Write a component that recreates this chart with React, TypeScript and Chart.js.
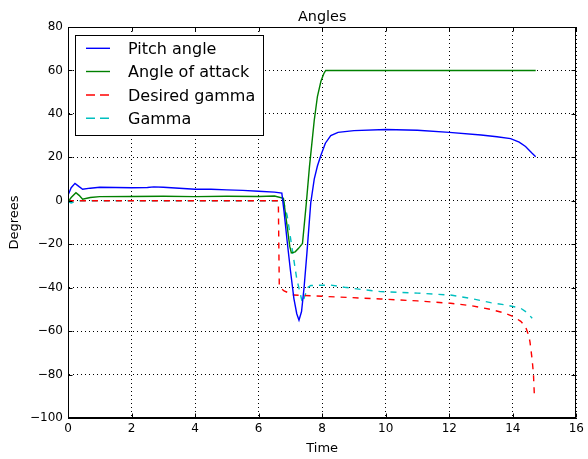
import React, { useEffect, useRef } from "react";
import { Chart, registerables } from "chart.js";

Chart.register(...registerables);

const chartTitle = "Angles";
const xLabel = "Time";
const yLabel = "Degrees";
const xTicks = [0, 2, 4, 6, 8, 10, 12, 14, 16];
const yTicks = [-100, -80, -60, -40, -20, 0, 20, 40, 60, 80];

const seriesNames = ["Pitch angle", "Angle of attack", "Desired gamma", "Gamma"];
const seriesColors = ["#0000ff", "#008000", "#ff0000", "#00bfbf"];

const pitchT = [0, 0.1, 0.22, 0.35, 0.46, 0.7, 1, 1.5, 2, 2.5, 2.7, 3, 3.5, 4, 4.5, 5, 5.5, 6, 6.5, 6.73, 6.8, 6.9, 7.0, 7.11, 7.2, 7.27, 7.35, 7.43, 7.52, 7.64, 7.75, 7.85, 7.96, 8.1, 8.27, 8.5, 9, 10, 11, 12, 13, 13.5, 13.93, 14.2, 14.4, 14.6, 14.72];
const pitchV = [2.5, 6, 8, 6.5, 5.3, 5.8, 6.2, 6.1, 6, 6.1, 6.4, 6.2, 5.8, 5.3, 5.3, 5, 4.8, 4.4, 4, 3.5, -5, -19, -32, -45, -52, -55, -51, -40, -24, -1, 10, 16, 21, 26.5, 30, 31.5, 32.3, 32.8, 32.5, 31.5, 30.3, 29.5, 28.6, 27, 25, 22, 20.3];

const aoaT = [0, 0.1, 0.25, 0.35, 0.46, 0.7, 1, 2, 3, 4, 5, 6, 6.5, 6.78, 6.87, 6.98, 7.03, 7.15, 7.25, 7.38, 7.5, 7.6, 7.75, 7.85, 7.96, 8.05, 8.11, 9, 10, 12, 14, 14.72];
const aoaV = [-0.5, 1.5, 3.7, 2.5, 0.7, 1.5, 1.9, 2, 2.1, 1.9, 2.1, 2, 2.2, 1.1, -8.8, -21, -24, -23.5, -22, -19.6, -1.2, 15.7, 37, 48, 55, 58.5, 60, 60, 60, 60, 60, 60];

const desiredT = [0, 6.62, 6.65, 6.8, 7.11, 7.75, 8.5, 9.84, 11, 12.04, 12.7, 13.3, 13.7, 14.03, 14.25, 14.4, 14.5, 14.54, 14.61, 14.65, 14.68];
const desiredV = [0, 0, -39.5, -41.5, -43.4, -43.8, -44.3, -45.2, -46.1, -47.2, -48.3, -50, -51.5, -53.4, -55.5, -58, -62, -65, -73.3, -80, -90.2];

const gammaT = [0, 0.1, 0.3, 1, 6.78, 6.9, 7.06, 7.2, 7.33, 7.38, 7.45, 7.54, 7.64, 8.27, 8.7, 9.21, 9.84, 11, 12.04, 12.7, 13.3, 13.8, 14.25, 14.45, 14.61];
const gammaV = [-0.5, -1, 0, 0, 0, -7, -22.6, -36, -44, -47, -44, -40, -39, -38.8, -39.8, -40.8, -41.8, -42.5, -43.4, -45, -46.9, -48, -49.5, -51.5, -54.1];

const seriesT = [pitchT, aoaT, desiredT, gammaT];
const seriesV = [pitchV, aoaV, desiredV, gammaV];
const seriesDashed = [false, false, true, true];

const FONT = "'DejaVu Sans', sans-serif";

const decorPlugin = {
  id: "decor",
  afterDraw(chart: any) {
    const ctx = chart.ctx;
    const a = chart.chartArea;
    const xs = chart.scales.x;
    const ys = chart.scales.y;
    ctx.save();
    ctx.strokeStyle = "#000";
    ctx.lineWidth = 1;
    ctx.setLineDash([]);
    const L = Math.round(a.left) + 0.5;
    const R = Math.round(a.right) - 0.5;
    const T = Math.round(a.top) + 0.5;
    const B = Math.round(a.bottom) - 0.5;
    ctx.strokeRect(L, T, R - L, B - T);
    const tl = 4;
    ctx.beginPath();
    xTicks.forEach((v) => {
      const px = Math.round(xs.getPixelForValue(v)) + 0.5;
      ctx.moveTo(px, B);
      ctx.lineTo(px, B - tl);
      ctx.moveTo(px, T);
      ctx.lineTo(px, T + tl);
    });
    yTicks.forEach((v) => {
      const py = Math.round(ys.getPixelForValue(v)) + 0.5;
      ctx.moveTo(L, py);
      ctx.lineTo(L + tl, py);
      ctx.moveTo(R, py);
      ctx.lineTo(R - tl, py);
    });
    ctx.stroke();
    ctx.fillStyle = "#000";
    ctx.font = `14.4px ${FONT}`;
    ctx.textAlign = "center";
    ctx.textBaseline = "alphabetic";
    ctx.fillText(chartTitle, (a.left + a.right) / 2, 21);
    const lx = 75.5, ly = 35.5, lw = 188, lh = 100;
    ctx.fillStyle = "#fff";
    ctx.fillRect(lx, ly, lw, lh);
    ctx.strokeStyle = "#000";
    ctx.strokeRect(lx, ly, lw, lh);
    const rows = [48.3, 71.5, 95, 118.3];
    ctx.font = `16px ${FONT}`;
    ctx.textAlign = "left";
    seriesNames.forEach((name, i) => {
      const y = rows[i];
      ctx.strokeStyle = seriesColors[i];
      ctx.lineWidth = 1.4;
      ctx.setLineDash(seriesDashed[i] ? [9, 5] : []);
      ctx.beginPath();
      ctx.moveTo(86, y);
      ctx.lineTo(110, y);
      ctx.stroke();
      ctx.setLineDash([]);
      ctx.fillStyle = "#000";
      ctx.fillText(name, 128, rows[i] + 5.8);
    });
    ctx.restore();
  },
};

export default function App() {
  const ref = useRef<HTMLCanvasElement>(null);
  useEffect(() => {
    if (!ref.current) return;
    const datasets = seriesNames.map((name, i) => ({
      label: name,
      data: seriesT[i].map((t, j) => ({ x: t, y: seriesV[i][j] })),
      borderColor: seriesColors[i],
      backgroundColor: seriesColors[i],
      borderWidth: 1.4,
      borderDash: seriesDashed[i] ? [6, 6] : [],
      pointRadius: 0,
      tension: 0,
      fill: false,
    }));
    const chart = new Chart(ref.current, {
      type: "line",
      data: { datasets },
      plugins: [decorPlugin],
      options: {
        responsive: false,
        animation: false,
        devicePixelRatio: 1,
        layout: { padding: { top: 27, right: 11, left: 0, bottom: 0 } },
        plugins: {
          legend: { display: false },
          title: { display: false },
          tooltip: { enabled: false },
        },
        scales: {
          x: {
            type: "linear",
            min: 0,
            max: 16,
            afterBuildTicks: (s: any) => {
              s.ticks = xTicks.map((v) => ({ value: v }));
            },
            afterFit: (s: any) => {
              s.height = 41;
            },
            ticks: {
              color: "#000",
              font: { family: FONT, size: 12 },
              padding: 4,
              maxRotation: 0,
              callback: (v: any) => String(v),
            },
            grid: {
              color: "#000",
              lineWidth: 1,
              drawTicks: false,
            },
            border: { display: true, color: "#000", width: 1, dash: [1, 3] },
            title: {
              display: true,
              text: xLabel,
              color: "#000",
              font: { family: FONT, size: 13 },
              padding: { top: 0, bottom: 3 },
            },
          },
          y: {
            type: "linear",
            min: -100,
            max: 80,
            afterBuildTicks: (s: any) => {
              s.ticks = yTicks.map((v) => ({ value: v }));
            },
            afterFit: (s: any) => {
              s.width = 68;
            },
            ticks: {
              color: "#000",
              font: { family: FONT, size: 12 },
              padding: 5,
              callback: (v: any) => String(v).replace("-", "\u2212"),
            },
            grid: {
              color: "#000",
              lineWidth: 1,
              drawTicks: false,
            },
            border: { display: true, color: "#000", width: 1, dash: [1, 3] },
            title: {
              display: true,
              text: yLabel,
              color: "#000",
              font: { family: FONT, size: 13 },
              padding: { top: 7, bottom: 0 },
            },
          },
        },
      } as any,
    });
    return () => chart.destroy();
  }, []);
  return (
    <div style={{ position: "absolute", left: 0, top: 0, width: 588, height: 459, background: "#fff" }}>
      <canvas ref={ref} width={588} height={459} />
    </div>
  );
}
